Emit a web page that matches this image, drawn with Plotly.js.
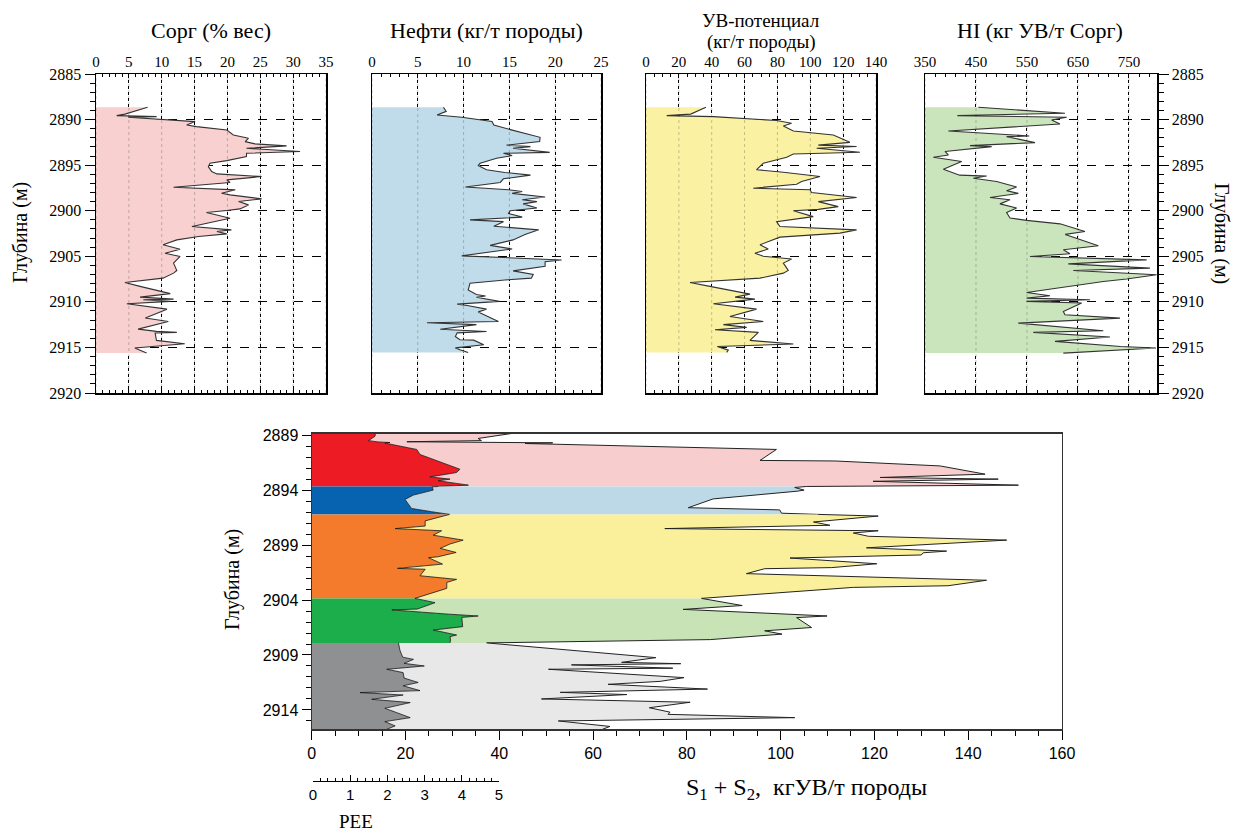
<!DOCTYPE html>
<html><head><meta charset="utf-8">
<script src="https://cdn.plot.ly/plotly-3.0.1.min.js"></script>
<style>html,body{margin:0;padding:0;background:#fff}#chart{width:1234px;height:834px}</style>
</head><body><div id="chart"></div>
<script>
// ---- top panels: [depth (m), value]
const corgLog = [[2888.65,7.86],[2889.4,4.4],[2889.57,3.15],[2889.68,9.23],[2889.75,4.9],[2890.22,15.07],[2890.59,13.8],[2890.77,15.3],[2891.14,19.9],[2891.69,20.9],[2892.05,23.2],[2892.42,22.7],[2892.67,24.2],[2892.89,29.0],[2893.15,22.9],[2893.51,31.05],[2893.7,22.9],[2894.06,22.9],[2894.5,19.9],[2894.79,17.35],[2895.16,17.1],[2895.7,17.6],[2895.96,18.4],[2896.25,25.2],[2896.62,19.9],[2896.91,20.4],[2897.42,11.8],[2897.71,21.2],[2898.08,19.1],[2898.26,20.4],[2898.7,25.2],[2898.99,21.7],[2899.36,23.2],[2899.8,21.9],[2899.98,19.9],[2900.2,16.8],[2900.82,20.4],[2901.19,18.1],[2901.73,14.6],[2902.1,20.6],[2902.28,18.4],[2902.54,19.9],[2902.83,15.6],[2903.2,12.3],[2903.74,10.2],[2904.22,12.8],[2904.66,10.5],[2905.02,12.8],[2905.75,11.8],[2906.56,12.3],[2906.85,11.8],[2907.4,10.2],[2907.87,4.4],[2908.3,6.7],[2909.1,11.3],[2909.48,6.7],[2909.7,11.8],[2909.77,7.2],[2909.95,11.3],[2910.2,4.7],[2910.8,10.8],[2911.78,7.5],[2912.15,11.0],[2912.99,6.4],[2913.24,9.2],[2913.35,12.3],[2913.42,9.0],[2914.23,9.2],[2914.59,13.5],[2915.07,5.9],[2915.62,7.7]];
const oilLog = [[2888.65,7.8],[2889.1,8.1],[2889.5,7.1],[2889.75,9.8],[2890.2,13.1],[2890.6,13.3],[2891.1,15.1],[2891.6,16.9],[2891.95,18.35],[2892.4,18.3],[2892.8,14.7],[2892.97,17.3],[2893.15,15.4],[2893.6,19.4],[2893.7,14.35],[2893.95,15.3],[2894.25,13.6],[2894.8,11.8],[2895.05,11.6],[2895.5,12.5],[2895.8,14.5],[2896.1,17.3],[2896.5,14.35],[2896.9,14.0],[2897.4,10.2],[2897.7,14.9],[2897.9,16.4],[2898.1,15.3],[2898.5,18.9],[2898.8,16.4],[2899.0,18.0],[2899.25,16.5],[2899.7,18.0],[2900.0,15.1],[2900.3,14.9],[2900.7,16.4],[2901.0,10.7],[2901.2,14.35],[2901.7,13.3],[2902.1,18.2],[2902.6,16.7],[2903.2,15.4],[2903.8,12.9],[2904.2,15.3],[2904.95,9.8],[2905.4,20.7],[2905.6,18.9],[2906.1,18.9],[2906.6,15.4],[2907.0,17.6],[2907.4,17.4],[2907.6,14.5],[2907.95,10.7],[2908.7,10.5],[2909.2,11.4],[2909.35,12.4],[2909.5,11.4],[2909.95,13.9],[2910.25,9.3],[2910.4,10.4],[2910.8,12.5],[2911.1,11.6],[2912.15,13.8],[2912.3,6.0],[2912.5,11.4],[2913.0,7.45],[2913.25,12.5],[2913.4,9.3],[2913.8,9.1],[2914.15,9.6],[2914.2,11.1],[2914.7,12.2],[2915.05,9.1],[2915.25,9.6],[2915.55,10.5]];
const potLog = [[2888.65,36.5],[2889.4,27.2],[2889.57,12.6],[2889.68,41],[2890.1,79.5],[2890.4,88.6],[2890.7,83.6],[2891.25,89.7],[2891.7,114],[2892.5,124.1],[2892.8,104.9],[2892.96,128.2],[2893.15,103.9],[2893.59,130.2],[2893.77,89.7],[2894.13,85.6],[2894.8,71.4],[2895.5,67.3],[2895.78,83.6],[2896.25,105.9],[2896.8,94.7],[2897.1,91.7],[2897.53,65.3],[2897.7,99.8],[2898.0,100.8],[2898.55,128.2],[2899.0,104.9],[2899.55,117],[2899.85,104.9],[2900.0,89.7],[2900.65,101.8],[2901.2,79.5],[2901.73,81.5],[2902.1,128.2],[2902.46,118],[2902.9,81.5],[2903.74,69.4],[2904.2,74.4],[2904.66,66.3],[2905.0,71.4],[2905.3,88.6],[2905.75,83.6],[2906.55,86.6],[2906.85,83.6],[2907.4,69.4],[2907.87,26.8],[2908.3,38.9],[2909.15,63.3],[2909.48,54.2],[2909.7,66.3],[2910.2,41],[2910.8,67.3],[2911.6,51.1],[2912.15,71.4],[2912.5,47.1],[2912.8,61.3],[2913.06,42],[2913.35,68.4],[2914.23,63.3],[2914.63,89.7],[2914.9,43.4],[2915.3,50.1],[2915.55,49.1]];
const hiLog = [[2888.65,454.6],[2889.3,624.5],[2889.57,413.4],[2889.75,627.8],[2890.04,598.4],[2890.48,614.7],[2891.25,395.8],[2891.8,554.6],[2891.87,510.1],[2892.53,565.7],[2892.86,438.2],[2892.97,480.7],[2893.5,389.2],[2893.88,395.8],[2894.13,366.3],[2894.6,421.9],[2895.45,386],[2896.1,418],[2896.2,470.9],[2896.44,444.8],[2896.8,490.5],[2897.4,529.7],[2897.8,510],[2898.1,533],[2898.55,477.5],[2898.8,516.7],[2899.25,497],[2899.7,529.7],[2900.2,510],[2900.8,516.7],[2901.06,549.3],[2901.44,614.7],[2902.28,663.7],[2902.6,625],[2903.85,689.9],[2904.29,621.3],[2904.73,634.3],[2905.02,555.9],[2905.39,784.6],[2905.83,631],[2906.3,791.2],[2906.56,640.8],[2907.03,804.2],[2907.5,745.4],[2907.76,699.7],[2908.97,549.3],[2909.33,595.1],[2909.59,549.3],[2909.77,673.5],[2909.95,549.3],[2910.13,657.2],[2911.05,621.3],[2911.42,624.5],[2911.78,732.4],[2912.33,533],[2913.17,699.7],[2913.35,562.4],[2913.86,712.7],[2914.34,604.9],[2914.89,733.7],[2915.07,803],[2915.62,621.3]];

const corgTicks = [0,5,10,15,20,25,30,35];
const oilTicks = [0,5,10,15,20,25];
const potTicks = [0,20,40,60,80,100,120,140];
const hiTicks = [350,450,550,650,750];

// ---- bottom panel: zones, each with S1+S2 curve and PEE curve, [depth, value]
const zoneNames = ['zone1','zone2','zone3','zone4','zone5'];
const s12Zones = [
 [[2888.85,42.6],[2889.3,35.5],[2889.5,36.2],[2889.6,20.3],[2889.7,51.4],[2889.76,45.5],[2890.3,99.1],[2891.3,95.6],[2891.35,111.6],[2891.6,124],[2891.8,134],[2892.55,143.6],[2892.85,121.2],[2893.0,146.4],[2893.2,119.7],[2893.55,150.7],[2893.67,105.5]],
 [[2893.67,105.5],[2893.76,103.0],[2894.0,105],[2894.1,103.5],[2894.8,85.6],[2895.6,80.3],[2895.8,99.8],[2896.1,100.2],[2896.21,108]],
 [[2896.21,108],[2896.36,120.8],[2896.9,107],[2897.2,110.5],[2897.5,75.3],[2897.7,120.8],[2897.9,115.5],[2898.2,118.7],[2898.55,148.2],[2899.25,118.3],[2899.55,135.4],[2899.7,130.4],[2899.9,130],[2900.18,102],[2900.7,120.5],[2901.05,110.9],[2901.15,96.6],[2901.6,92.7],[2902.2,143.9],[2902.7,135.7],[2902.85,115.5],[2903.85,83.1]],
 [[2903.85,83.1],[2904.5,91.8],[2904.85,79.2],[2905.45,109.9],[2905.6,103.4],[2906.5,106.6],[2906.8,96.6],[2907.1,100.3],[2907.6,85],[2907.9,37.3]],
 [[2907.9,37.3],[2909.24,73.4],[2909.67,66.1],[2909.79,78.7],[2909.9,55.4],[2910.2,77],[2910.3,50.5],[2911.06,79.4],[2911.4,74.3],[2911.67,63.2],[2912.1,84.4],[2912.4,53],[2912.6,67.2],[2913.0,49],[2913.3,80.7],[2913.8,72],[2914.2,76.4],[2914.4,76],[2914.7,103],[2915.0,52.6],[2915.5,63.6],[2915.76,62]]
];
const peeZones = [
 [[2888.85,13.6],[2889.1,13.5],[2889.5,12.1],[2889.62,14.2],[2889.67,16.7],[2889.72,15.6],[2890.15,20.6],[2890.3,22.4],[2890.76,23.1],[2891.4,27],[2891.7,29.1],[2892.1,31.6],[2892.4,30.9],[2892.8,25.2],[2893.0,29.5],[2893.15,27],[2893.55,33.4],[2893.67,27]],
 [[2893.67,27],[2893.7,25.7],[2894.0,25.9],[2894.45,21.7],[2894.85,19.9],[2895.67,21.3],[2895.97,25.6],[2896.21,29.4]],
 [[2896.21,29.4],[2896.58,25.9],[2896.8,24.2],[2897.27,24.2],[2897.5,17.8],[2897.7,27.7],[2898.1,25.9],[2898.55,32.3],[2898.9,29.5],[2899.3,27.4],[2899.67,30.8],[2900.06,27],[2900.15,24.9],[2900.73,27.9],[2901.12,18.3],[2901.2,24.2],[2901.79,23.1],[2902.12,30.9],[2902.4,28.8],[2902.94,28.8],[2903.85,22]],
 [[2903.85,22],[2904.24,26.3],[2904.82,22.5],[2904.9,17.1],[2905.27,28.6],[2905.45,35.5],[2905.58,32],[2906.42,32.2],[2906.73,25.9],[2907.18,30.9],[2907.33,29.5],[2907.64,29.6],[2907.9,29.5]],
 [[2907.9,18.5],[2908.55,18.8],[2909.2,19.4],[2909.4,21.7],[2909.76,19.7],[2910.0,24],[2910.15,20.1],[2910.3,16],[2910.6,19.5],[2911.1,19.7],[2911.5,22.7],[2911.8,19.5],[2912.24,23.1],[2912.42,10.3],[2912.64,19.5],[2913.03,12.8],[2913.33,21],[2913.85,15.6],[2914.24,18.1],[2914.7,21],[2915.06,15.6],[2915.45,17.8],[2915.76,16]]
];
const peeTicks = [0,1,2,3,4,5];
const s12Ticks = [0,20,40,60,80,100,120,140,160];

// ---- styles
const W = 1234, H = 834;
const px = v => v / W, py = v => 1 - v / H;
const serif = 'Liberation Serif';
const sans = 'Liberation Sans';
const topFill = ['#f8d0d0', '#c0dcea', '#fbf1a2', '#cae5bc'];
const darkZone = ['#ed1c24', '#0763b0', '#f47b2b', '#1bae4a', '#8f9092'];
const lightZone = ['#f7cdcd', '#bdd9e8', '#faf09b', '#c8e3b6', '#e8e8e8'];

const xy = arr => ({ x: arr.map(p => p[1]), y: arr.map(p => p[0]) });
const traces = [];
const logs = [corgLog, oilLog, potLog, hiLog];
logs.forEach((lg, i) => {
  const s = i === 0 ? '' : String(i + 1);
  const d = xy(lg);
  traces.push({ type: 'scatter', mode: 'lines', x: d.x, y: d.y, xaxis: 'x' + s, yaxis: 'y' + s,
    fill: 'tozerox', fillcolor: topFill[i], line: { color: '#333', width: 1.1 }, hoverinfo: 'skip' });
});
zoneNames.forEach((nm, i) => {
  const p = xy(peeZones[i]);
  const s = xy(s12Zones[i]);
  traces.push({ type: 'scatter', mode: 'lines', name: nm + ' PEE', x: p.x, y: p.y, xaxis: 'x5', yaxis: 'y5',
    fill: 'tozerox', fillcolor: darkZone[i], line: { color: '#111', width: 0.8 }, hoverinfo: 'skip' });
  traces.push({ type: 'scatter', mode: 'lines', name: nm + ' S1+S2', x: s.x, y: s.y, xaxis: 'x5', yaxis: 'y5',
    fill: 'tonextx', fillcolor: lightZone[i], line: { color: '#222', width: 1 }, hoverinfo: 'skip' });
});
traces.push({ type: 'scatter', mode: 'markers', x: [0], y: [0], xaxis: 'x6', yaxis: 'y6',
  marker: { opacity: 0 }, hoverinfo: 'skip' });

function topX(dom, ticks, range, minor, anchor) {
  return { domain: dom, anchor: anchor, range: range, side: 'top', tickmode: 'array', tickvals: ticks,
    ticks: 'inside', ticklen: 4, tickcolor: '#000', showline: true, linecolor: '#000', linewidth: 1.5,
    mirror: 'allticks', showgrid: true, gridcolor: '#000', griddash: 'dot', gridwidth: 1, zeroline: false,
    minor: { dtick: minor, tick0: range[0], ticks: 'inside', ticklen: 3, tickcolor: '#000', showgrid: false },
    tickfont: { family: serif, size: 15, color: '#000' }, fixedrange: true };
}
function topY(anchor, side, labels) {
  return { domain: [py(393), py(74)], anchor: anchor, side: side, range: [2920, 2885], tick0: 2885, dtick: 5,
    ticks: labels ? 'outside' : '', ticklen: 10, tickcolor: '#000', showticklabels: labels,
    showline: true, linecolor: '#000', linewidth: 1.5, mirror: true, showgrid: true, gridcolor: '#000',
    griddash: 'dash', gridwidth: 1, zeroline: false,
    minor: labels ? { dtick: 1, ticks: 'outside', ticklen: 5, tickcolor: '#000', showgrid: false } : { showgrid: false },
    tickfont: { family: serif, size: 16, color: '#000' }, fixedrange: true };
}

const shapes = [];
[[corgTicks, 'x', 'y'], [oilTicks, 'x2', 'y2'], [potTicks, 'x3', 'y3'], [hiTicks, 'x4', 'y4']].forEach(([tk, xa, ya]) => {
  tk.forEach(t => shapes.push({ type: 'line', xref: xa, yref: ya + ' domain', x0: t, x1: t, y0: 0, y1: 1,
    layer: 'above', line: { color: 'rgba(0,0,0,0.22)', width: 1, dash: 'dot' } }));
});

const ann = (text, x, y, size, angle, font) => ({ text: text, xref: 'paper', yref: 'paper', x: px(x), y: py(y),
  xanchor: 'center', yanchor: 'middle', showarrow: false, textangle: angle || 0,
  font: { family: font || serif, size: size, color: '#000' } });

const layout = {
  width: W, height: H, margin: { l: 0, r: 0, t: 0, b: 0 }, paper_bgcolor: '#fff', plot_bgcolor: 'rgba(0,0,0,0)',
  showlegend: false, font: { family: serif, color: '#000' },
  xaxis: topX([px(96), px(326)], corgTicks, [0, 35], 1, 'y'),
  xaxis2: topX([px(372), px(601)], oilTicks, [0, 25], 1, 'y2'),
  xaxis3: topX([px(646), px(876)], potTicks, [0, 140], 5, 'y3'),
  xaxis4: topX([px(925), px(1157)], hiTicks, [350, 805], 20, 'y4'),
  yaxis: topY('x', 'left', true),
  yaxis2: topY('x2', 'left', false),
  yaxis3: topY('x3', 'left', false),
  yaxis4: topY('x4', 'right', true),
  xaxis5: { domain: [px(311.7), px(1062)], anchor: 'y5', range: [0, 160], tickmode: 'array', tickvals: s12Ticks,
    ticks: 'outside', ticklen: 9, tickcolor: '#000', showline: true, linecolor: '#333', linewidth: 1.2, mirror: true,
    showgrid: false, zeroline: false, minor: { dtick: 5, ticks: 'outside', ticklen: 5, tickcolor: '#000', showgrid: false },
    tickfont: { family: sans, size: 16, color: '#000' }, fixedrange: true },
  yaxis5: { domain: [py(729.3), py(433.5)], anchor: 'x5', range: [2915.76, 2888.85], tick0: 2889, dtick: 5,
    ticks: 'outside', ticklen: 9, tickcolor: '#000', showline: true, linecolor: '#333', linewidth: 1.2, mirror: true,
    showgrid: false, zeroline: false, minor: { dtick: 1, ticks: 'outside', ticklen: 5, tickcolor: '#000', showgrid: false },
    tickfont: { family: sans, size: 16, color: '#000' }, fixedrange: true },
  xaxis6: { domain: [px(313), px(499)], anchor: 'y6', range: [0, 5], tickmode: 'array', tickvals: peeTicks,
    ticks: 'inside', ticklen: 6, tickcolor: '#000', showline: true, linecolor: '#000', linewidth: 1,
    showgrid: false, zeroline: false, minor: { dtick: 0.2, ticks: 'inside', ticklen: 3, tickcolor: '#000', showgrid: false },
    tickfont: { family: sans, size: 15, color: '#000' }, fixedrange: true },
  yaxis6: { domain: [py(781), py(780)], anchor: 'x6', visible: false, showticklabels: false, fixedrange: true },
  shapes: shapes,
  annotations: [
    ann('Сорг (% вес)', 211, 30, 22),
    ann('Нефти (кг/т породы)', 487, 30, 22),
    ann('УВ-потенциал', 761, 21, 19),
    ann('(кг/т породы)', 761, 42, 19),
    ann('HI (кг УВ/т Сорг)', 1040, 30, 22),
    ann('Глубина (м)', 20, 233, 20, -90),
    ann('Глубина (м)', 1222, 233, 20, 90),
    ann('Глубина (м)', 232, 580, 20, -90),
    ann('S<sub>1</sub> + S<sub>2</sub>,  кгУВ/т породы', 806, 789, 24),
    ann('PEE', 356, 821, 19)
  ]
};
Plotly.newPlot('chart', traces, layout, { staticPlot: true, displayModeBar: false });
</script></body></html>
